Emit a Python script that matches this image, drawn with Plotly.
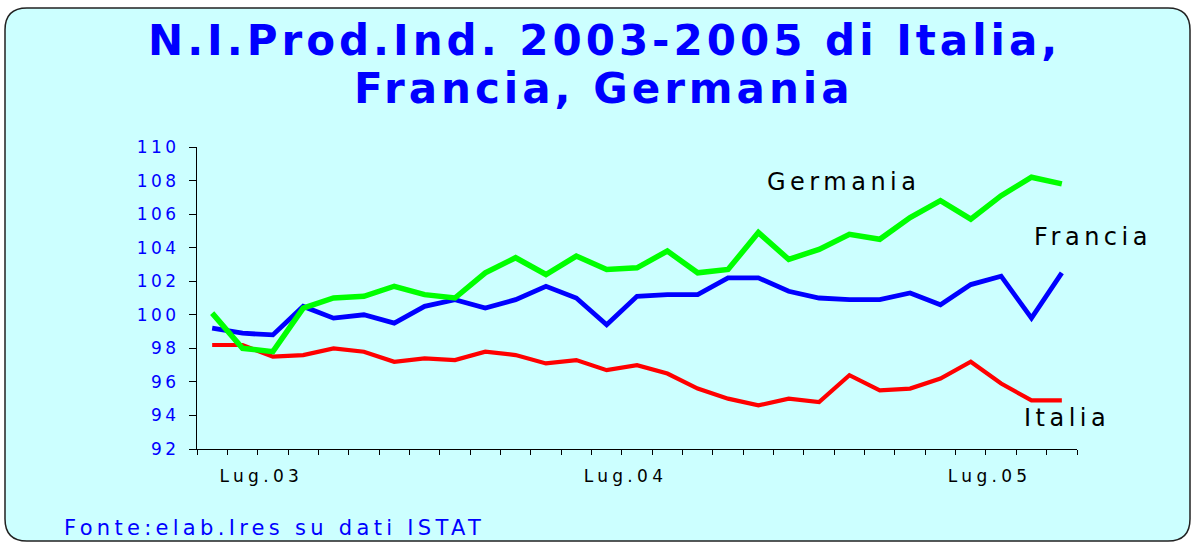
import plotly.graph_objects as go

# ---- data (monthly index, May 2003 .. Sep 2005) ----
months = ["Mag.03", "Giu.03", "Lug.03", "Ago.03", "Set.03", "Ott.03", "Nov.03", "Dic.03",
          "Gen.04", "Feb.04", "Mar.04", "Apr.04", "Mag.04", "Giu.04", "Lug.04", "Ago.04",
          "Set.04", "Ott.04", "Nov.04", "Dic.04", "Gen.05", "Feb.05", "Mar.05", "Apr.05",
          "Mag.05", "Giu.05", "Lug.05", "Ago.05", "Set.05"]
italia = [98.2, 98.2, 97.5, 97.6, 98.0, 97.8, 97.2, 97.4, 97.3, 97.8, 97.6, 97.1, 97.3, 96.7, 97.0,
          96.5, 95.6, 95.0, 94.6, 95.0, 94.8, 96.4, 95.5, 95.6, 96.2, 97.2, 95.9, 94.9, 94.9]
francia = [99.2, 98.9, 98.8, 100.5, 99.8, 100.0, 99.5, 100.5, 100.9, 100.4, 100.9, 101.7, 101.0, 99.4, 101.1,
           101.2, 101.2, 102.2, 102.2, 101.4, 101.0, 100.9, 100.9, 101.3, 100.6, 101.8, 102.3, 99.8, 102.5]
germania = [100.1, 98.0, 97.8, 100.4, 101.0, 101.1, 101.7, 101.2, 101.0, 102.5, 103.4, 102.4, 103.5, 102.7, 102.8,
            103.8, 102.5, 102.7, 104.9, 103.3, 103.9, 104.8, 104.5, 105.8, 106.8, 105.7, 107.1, 108.2, 107.8]
tick_labels = ["Lug.03", "Lug.04", "Lug.05"]
tick_months = ["Lug.03", "Lug.04", "Lug.05"]
y_ticks = [92, 94, 96, 98, 100, 102, 104, 106, 108, 110]

FONT = "DejaVu Sans"
W, H = 1195, 542
ML, MR, MT, MB = 197, 118, 147, 93
PW, PH = W - ML - MR, H - MT - MB


def spaced(t, s):
    return f'<span style="letter-spacing:{s}px">{t}</span>'


x = list(range(len(months)))
label_shift = -0.38  # labels sit slightly left of the July category
tickvals = [months.index(m) + label_shift for m in tick_months]

fig = go.Figure()
fig.add_trace(go.Scatter(x=x, y=italia, mode="lines", name="Italia",
                         line=dict(color="#FF0000", width=4.2), showlegend=False))
fig.add_trace(go.Scatter(x=x, y=francia, mode="lines", name="Francia",
                         line=dict(color="#0000FF", width=4.8), showlegend=False))
fig.add_trace(go.Scatter(x=x, y=germania, mode="lines", name="Germania",
                         line=dict(color="#00FF00", width=5.5), showlegend=False))


def px2paper(X, Y):
    return (X - ML) / PW, (H - MB - Y) / PH


# rounded frame
x0, y0, x1, y1, r = 5, 8, 1190, 541, 22


def P(X, Y):
    a, b = px2paper(X, Y)
    return f"{a:.5f},{b:.5f}"


path = (f"M {P(x0 + r, y0)} L {P(x1 - r, y0)} Q {P(x1, y0)} {P(x1, y0 + r)} "
        f"L {P(x1, y1 - r)} Q {P(x1, y1)} {P(x1 - r, y1)} "
        f"L {P(x0 + r, y1)} Q {P(x0, y1)} {P(x0, y1 - r)} "
        f"L {P(x0, y0 + r)} Q {P(x0, y0)} {P(x0 + r, y0)} Z")
fig.add_shape(type="path", path=path, xref="paper", yref="paper",
              fillcolor="#CCFFFF", line=dict(color="#222222", width=1.5), layer="below")

# titles
TS = 4.0
tx, _ = px2paper(602 + TS / 2, 0)
_, ty1 = px2paper(0, 40.5)
_, ty2 = px2paper(0, 88.5)
title_font = dict(family=FONT, size=42, color="#0000FF")
fig.add_annotation(text="<b>" + spaced("N.I.Prod.Ind. 2003-2005 di Italia,", TS) + "</b>", x=tx, y=ty1,
                   xref="paper", yref="paper", showarrow=False, xanchor="center", yanchor="middle",
                   font=title_font)
fig.add_annotation(text="<b>" + spaced("Francia, Germania", TS) + "</b>", x=tx, y=ty2,
                   xref="paper", yref="paper", showarrow=False, xanchor="center", yanchor="middle",
                   font=title_font)

# series labels
LS = 4.5
lab_font = dict(family=FONT, size=24, color="#000000")
for name, cx, cy in [("Germania", 841, 182), ("Francia", 1091, 237), ("Italia", 1065, 418.3)]:
    ax_, ay_ = px2paper(cx + LS / 2, cy)
    fig.add_annotation(text=spaced(name, LS), x=ax_, y=ay_, xref="paper", yref="paper",
                       showarrow=False, xanchor="center", yanchor="middle", font=lab_font)

# source
sx, sy = px2paper(62, 527.5)
fig.add_annotation(text=spaced("Fonte:elab.Ires su dati ISTAT", 4.3), x=sx, y=sy, xref="paper", yref="paper",
                   showarrow=False, xanchor="left", yanchor="middle",
                   font=dict(family=FONT, size=21, color="#0000FF"))

fig.update_layout(
    width=W, height=H,
    margin=dict(l=ML, r=MR, t=MT, b=MB, pad=0),
    paper_bgcolor="#FFFFFF", plot_bgcolor="rgba(0,0,0,0)",
    showlegend=False,
    xaxis=dict(range=[-0.5, len(months) - 0.5], showgrid=False, zeroline=False,
               showline=True, linecolor="#000000", linewidth=1,
               tickmode="array", tickvals=tickvals, ticktext=[spaced(t, 4.3) for t in tick_labels], ticks="",
               ticklabelstandoff=12,
               tickfont=dict(family=FONT, size=17, color="#000000"),
               minor=dict(tickmode="array", tickvals=[i - 0.5 for i in range(len(months) + 1)],
                          ticks="outside", ticklen=5, tickcolor="#000000", tickwidth=1)),
    yaxis=dict(range=[92, 110], showgrid=False, zeroline=False,
               showline=True, linecolor="#000000", linewidth=1,
               tickmode="array", tickvals=y_ticks, ticktext=[spaced(str(v), 3.5) for v in y_ticks],
               ticks="outside", ticklen=7,
               tickcolor="#000000", ticklabelstandoff=6,
               tickfont=dict(family=FONT, size=17, color="#0000FF")),
)

fig.write_html("out.html", config={"displayModeBar": False},
               post_script="document.body.style.margin='0';document.body.style.overflow='hidden';")
